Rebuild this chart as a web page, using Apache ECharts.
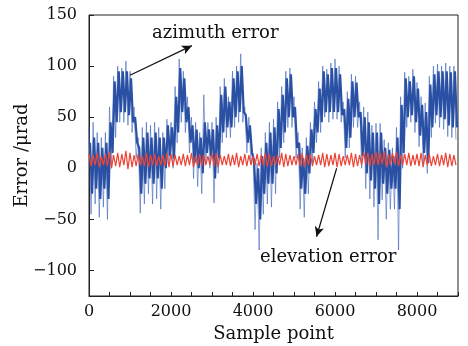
<!DOCTYPE html>
<html>
<head>
<meta charset="utf-8">
<script src="https://cdn.jsdelivr.net/npm/echarts@6/dist/echarts.min.js"></script>
<style>
  html, body { margin: 0; padding: 0; background: #fff; }
  #chart { width: 468px; height: 346px; }
</style>
</head>
<body>
<div id="chart"></div>
<script>
// one bin = 100 samples; outer spikes (hi / lo) and dense core band
const binSize = 100;
const azHi = [40, 45, 35, 30, 35, 60, 90, 100, 98, 105, 95, 60, 30, 40, 45, 42, 45, 40, 35, 48,
  45, 80, 107, 95, 70, 50, 45, 35, 72, 45, 45, 50, 80, 88, 70, 95, 100, 112, 60, 50,
  15, 5, 20, 35, 45, 48, 65, 80, 95, 98, 70, 35, 20, 30, 45, 65, 85, 100, 97, 103,
  107, 100, 65, 75, 92, 90, 65, 60, 55, 42, 44, 44, 28, 25, 20, 40, 70, 94, 90, 97,
  84, 70, 64, 90, 100, 102, 100, 103, 100, 100];
const azLo = [-45, -35, -48, -38, -50, 0, 30, 45, 45, 42, 35, 10, -44, -35, -25, -35, -30, -40, -20, 5,
  0, 25, 45, 35, 15, -10, -18, -25, 5, 0, -34, -5, 25, 30, 30, 40, 45, 45, 15, 5,
  -60, -80, -45, -35, -38, -25, 10, 25, 40, 40, 10, -40, -48, -25, 5, 25, 35, 50, 45, 48,
  48, 45, 10, 20, 40, 40, 0, -20, -30, -38, -70, -31, -50, -40, -40, -80, 0, 40, 45, 35,
  21, 5, -5, 30, 44, 40, 38, 31, 30, 28];
const azCoreHi = [25, 30, 25, 20, 25, 45, 85, 95, 95, 95, 88, 50, 20, 30, 35, 30, 35, 30, 30, 42,
  40, 70, 98, 88, 60, 42, 38, 30, 45, 38, 38, 42, 72, 80, 65, 88, 95, 100, 52, 42,
  8, 0, 12, 25, 35, 40, 58, 72, 88, 92, 60, 25, 10, 22, 38, 58, 78, 95, 92, 98,
  98, 92, 58, 68, 85, 84, 55, 50, 45, 35, 35, 35, 20, 18, 12, 30, 62, 88, 85, 90,
  78, 62, 55, 82, 92, 95, 95, 95, 94, 95];
const azCoreLo = [-25, -20, -30, -20, -30, 15, 45, 55, 55, 52, 45, 25, -25, -15, -10, -15, -10, -20, 0, 12,
  10, 35, 55, 45, 25, 5, 0, -5, 15, 12, -10, 10, 35, 40, 40, 50, 55, 55, 25, 15,
  -35, -50, -25, -15, -15, -5, 20, 35, 50, 50, 20, -20, -25, -5, 15, 35, 45, 55, 55, 55,
  55, 52, 20, 30, 50, 50, 12, -5, -12, -20, -35, -15, -25, -20, -20, -40, 15, 50, 52, 45,
  32, 15, 5, 40, 52, 50, 48, 42, 40, 40];
const elHi = [14, 13, 15, 12, 14, 16, 13, 15, 14, 17, 15, 13, 14, 12, 15, 13, 14, 12, 13, 15,
  14, 13, 12, 14, 13, 15, 12, 14, 13, 12, 14, 15, 13, 12, 14, 13, 15, 12, 14, 13,
  12, 14, 13, 15, 14, 12, 13, 15, 14, 13, 12, 14, 15, 13, 14, 12, 13, 15, 14, 13,
  15, 14, 12, 13, 15, 14, 13, 16, 15, 14, 16, 15, 17, 14, 15, 16, 13, 14, 15, 13,
  14, 15, 13, 14, 12, 14, 13, 15, 14, 13];
const elLo = [2, 3, 1, 3, 2, 0, 2, 1, 3, -1, 1, 2, 3, 2, 1, 3, 2, 3, 2, 1,
  2, 3, 3, 2, 3, 1, 3, 2, 3, 3, 2, 1, 3, 3, 2, 3, 1, 3, 2, 3,
  3, 2, 3, 1, 2, 3, 3, 1, 2, 3, 3, 2, 1, 3, 2, 3, 3, 1, 2, 3,
  1, 2, 3, 3, 1, 2, 3, 4, 2, 3, 3, 4, 1, 3, 4, 2, 3, 3, 2, 3,
  2, 1, 3, 2, 3, 2, 3, 1, 2, 3];
const xLabels = [0, 2000, 4000, 6000, 8000];
const xTicks = Array.from({ length: 19 }, (_, i) => i * 500);
const yLabels = [-100, -50, 0, 50, 100, 150];

// hi at the bin start, lo half a bin later (offset shifts a second series between them)
function zigzag(hi, lo, offset) {
  const out = [];
  hi.forEach((v, i) => {
    out.push([i * binSize + offset, v]);
    out.push([i * binSize + offset + binSize / 2, lo[i]]);
  });
  return out;
}

const serif = 'DejaVu Serif';
const chart = echarts.init(document.getElementById('chart'));
chart.setOption({
  animation: false,
  backgroundColor: '#fff',
  grid: { left: 89, right: 10, top: 15, bottom: 50, outerBoundsMode: 'none', containLabel: false,
    show: true, borderColor: '#222', borderWidth: 1 },
  xAxis: {
    type: 'value', min: 0, max: 9000,
    name: 'Sample point', nameLocation: 'middle', nameGap: 29,
    nameTextStyle: { fontFamily: serif, fontSize: 18, color: '#111' },
    axisLine: { show: true, onZero: false, lineStyle: { color: '#222' } },
    axisTick: { inside: true, length: 4, customValues: xTicks, lineStyle: { color: '#222' } },
    axisLabel: { customValues: xLabels, margin: 8, fontFamily: serif, fontSize: 16, color: '#111',
      formatter: v => '' + v },
    splitLine: { show: false }
  },
  yAxis: {
    type: 'value', min: -125, max: 150,
    name: 'Error /μrad', nameLocation: 'middle', nameGap: 58, nameMoveOverlap: false,
    nameTextStyle: { fontFamily: serif, fontSize: 18, color: '#111' },
    axisLine: { show: true, onZero: false, lineStyle: { color: '#222' } },
    axisTick: { inside: true, length: 5, customValues: yLabels, lineStyle: { color: '#222' } },
    axisLabel: { customValues: yLabels, margin: 12, fontFamily: serif, fontSize: 16, color: '#111',
      formatter: v => (v < 0 ? '\u2212' + Math.abs(v) : '' + v) },
    splitLine: { show: false }
  },
  series: [{
    name: 'azimuth spikes',
    type: 'line',
    data: zigzag(azHi, azLo, 0),
    symbol: 'none',
    lineStyle: { width: 0.9, color: 'rgba(55,95,185,0.65)' },
    markLine: {
      silent: true,
      symbol: ['none', 'arrow'],
      symbolSize: [7, 10],
      label: { show: false },
      lineStyle: { color: '#111', width: 1.2, type: 'solid' },
      data: [
        [{ coord: [1000, 91] }, { coord: [2510, 120] }],
        [{ coord: [6040, 0] }, { coord: [5550, -67] }]
      ]
    }
  }, {
    name: 'azimuth error',
    type: 'line',
    data: zigzag(azCoreHi, azCoreLo, 25),
    symbol: 'none',
    lineStyle: { width: 2.2, color: '#2a50a4' }
  }, {
    name: 'elevation error',
    type: 'line',
    data: zigzag(elHi, elLo, 0),
    symbol: 'none',
    lineStyle: { width: 1.2, color: '#ee4436' }
  }],
  graphic: [
    { type: 'text', left: 152, top: 24, style: { text: 'azimuth error', font: '18px "DejaVu Serif"', fill: '#111' } },
    { type: 'text', left: 260, top: 248, style: { text: 'elevation error', font: '18px "DejaVu Serif"', fill: '#111' } }
  ]
});
</script>
</body>
</html>
